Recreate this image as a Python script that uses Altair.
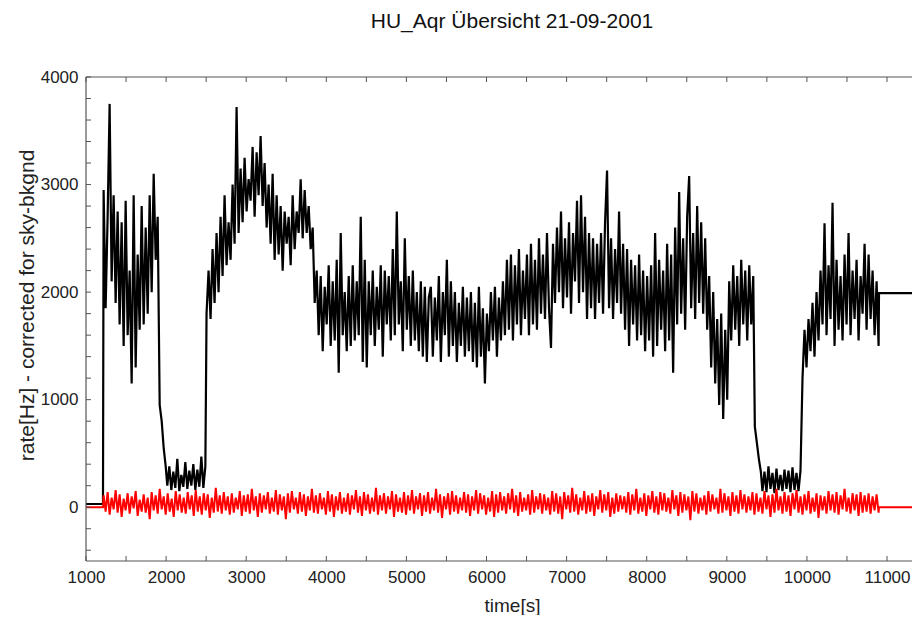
import altair as alt
import pandas as pd

TITLE = "HU_Aqr Übersicht 21-09-2001"
X_TITLE = "time[s]"
Y_TITLE = "rate[Hz] - corrected for sky-bkgnd"

STEP = 25  # seconds between read-off samples

# ---- black curve (source rate), segment by segment ----
black_starts = [1220, 1920, 2015, 2505, 3855, 5305, 6030, 6280, 6755,
                7330, 7730, 8355, 8780, 9055, 9350, 9445, 9945]
seg_a = [2950, 1850, 2700, 3750, 2100, 2900, 1900, 2750, 1700, 2650, 1500, 2850, 1600, 2200,
         1150, 2900, 1300, 2350, 1650, 2800, 1700, 2600, 1800, 2900, 2000, 3100, 2300, 2700]
seg_a_fall = [950, 800, 550, 380]
seg_b = [200, 380, 160, 330, 180, 450, 150, 300, 190, 420, 170, 340, 200, 400, 160, 350,
         190, 470, 180, 380]
seg_c = [1800, 2200, 1750, 2400, 1900, 2550, 2000, 2700, 2150, 2900,
         2250, 2650, 2300, 3000, 2450, 3720, 2550, 3150, 2650, 3250,
         2750, 3050, 2850, 3350, 2700, 3300, 2900, 3450, 2800, 3200,
         2600, 3000, 2450, 3100, 2300, 2900, 2350, 2800, 2200, 2750,
         2450, 2700, 2250, 2900, 2400, 2750, 2550, 3050, 2500, 2950,
         2550, 2800, 2400, 2600]
seg_d = [1900, 2200, 1600, 2150, 1450, 2050, 1700, 2250, 1500, 2100,
         1550, 2300, 1250, 2550, 1600, 2000, 1450, 2150, 1500, 2250,
         1550, 2100, 1600, 2700, 1350, 2300, 1300, 2100, 1600, 2200,
         1500, 2050, 1650, 2250, 1400, 2200, 1700, 2150, 1550, 2400,
         1600, 2750, 1700, 2100, 1450, 2500, 1650, 2150, 1500, 2200,
         1550, 2000, 1450, 2100, 1400, 2050, 1350, 1950]
seg_e = [2050, 1400, 1950, 1550, 2150, 1350, 2000, 1600, 2300, 1400, 2100, 1500, 2000, 1350,
         1900, 1500, 2050, 1400, 1950, 1450, 2000, 1350, 1900, 1300, 2050, 1400, 1850, 1150, 1800]
seg_f = [1450, 2000, 1550, 2050, 1400, 1950, 1550, 2100, 1600, 2300]
seg_g = [1650, 2350, 1550, 2250, 1700, 2400, 1600, 2200, 1750, 2350, 1600, 2450, 1700, 2300,
         1650, 2500, 1800, 2350, 1750]
seg_h = [2550, 1850, 1480, 2450, 1900, 2600, 2000, 2750, 1850, 2500, 1950, 2650, 1800, 2550,
         2100, 2850, 1900, 2900, 2000, 2700, 1750, 2550, 1850]
seg_i = [2500, 1750, 2450, 1900, 2550, 1800, 2650, 3130, 1850, 2500, 1750, 2400, 1900, 2750,
         1800, 2450]
seg_j = [1650, 2400, 1500, 2300, 1700, 2250, 1550, 2350, 1600, 2200, 1450, 2150, 1550, 2250,
         1400, 2550, 1500, 2300, 1650, 2200, 1450, 2450, 1550, 2350, 1250]
seg_k = [2600, 1700, 2930, 1800, 2500, 1650, 2700, 3080, 1850, 2550, 1750, 2800, 1900, 2650,
         1800, 2500, 1650]
seg_l = [2150, 1300, 2000, 1150, 1750, 950, 1800, 820, 1650, 1000, 2100]
seg_m = [1550, 2250, 1650, 2150, 1500, 2300, 1700, 2200, 1550, 2250, 1700, 2150]
seg_m_fall = [750, 600, 450, 330]
seg_n = [150, 330, 140, 380, 170, 320, 130, 360, 160, 300, 150, 350, 170, 340, 140, 370,
         160, 320, 150, 340]
seg_o = [1200, 1650, 1300, 1750, 1450, 1900, 1400, 2000, 1550, 2200,
         1700, 2640, 1600, 2250, 1750, 2830, 1500, 2300, 1650, 2150,
         1550, 2350, 1700, 2550, 1600, 2200, 1750, 2300, 1550, 2150,
         1800, 2450, 1650, 2350, 1750, 2200, 1600, 2100, 1500]
black_segments = [seg_a, seg_a_fall, seg_b, seg_c, seg_d, seg_e, seg_f, seg_g, seg_h,
                  seg_i, seg_j, seg_k, seg_l, seg_m, seg_m_fall, seg_n, seg_o]
black_lead_t = [1000, 1212]
black_lead_v = [30, 30]
black_tail_t = [10900, 11650]
black_tail_v = [1990, 1990]

# ---- red curve (background) ----
red_start = 1220
red_values = [
    110, -40, 140, -70, 90, -20, 160, -50, 120, -90, 80, -30, 130, -60, 100, -10, 150, -80, 70, -40,
    120, -50, 90, -110, 140, -30, 110, -60, 170, -20, 100, -70, 130, -40, 80, -90, 150, -30, 120, -50,
    90, -60, 140, -20, 110, -80, 160, -40, 100, -70, 130, -30, 120, -100, 90, -50, 180, -40, 110, -60,
    140, -30, 100, -70, 130, -50, 90, -20, 150, -80, 110, -40, 120, -60, 170, -30, 100, -90, 130, -50,
    110, -20, 140, -60, 90, -40, 160, -70, 120, -30, 100, -110, 130, -50, 150, -20, 90, -60, 140, -40,
    120, -80, 100, -30, 170, -50, 110, -60, 130, -20, 90, -70, 150, -40, 120, -90, 100, -30, 140, -60,
    90, -40, 130, -70, 110, -20, 160, -50, 100, -80, 140, -30, 120, -60, 90, -40, 180, -70, 110, -30,
    130, -60, 100, -20, 150, -90, 120, -40, 90, -50, 140, -70, 110, -30, 160, -60, 100, -20, 130, -80,
    110, -40, 140, -60, 90, -30, 170, -50, 120, -100, 100, -20, 130, -70, 150, -40, 110, -60, 90, -30,
    140, -50, 120, -80, 100, -30, 160, -60, 130, -20, 110, -70, 90, -40, 150, -90, 120, -50, 140, -30,
    100, -60, 130, -20, 170, -50, 110, -80, 140, -40, 90, -30, 120, -70, 160, -50, 100, -20, 130, -60,
    120, -30, 90, -70, 150, -40, 130, -60, 100, -110, 140, -20, 110, -50, 180, -40, 120, -70, 90, -30,
    150, -60, 110, -40, 130, -80, 100, -20, 160, -50, 120, -30, 140, -90, 90, -60, 130, -40, 110, -20,
    100, -50, 140, -70, 120, -30, 170, -60, 90, -40, 130, -80, 110, -20, 150, -50, 100, -70, 140, -30,
    130, -40, 90, -60, 160, -20, 110, -80, 140, -50, 120, -30, 100, -120, 150, -40, 130, -60, 90, -30,
    110, -70, 150, -40, 120, -20, 90, -60, 170, -50, 130, -30, 100, -80, 140, -40, 110, -60, 160, -20,
    120, -50, 100, -30, 140, -70, 130, -40, 90, -60, 150, -20, 110, -90, 120, -50, 170, -30, 100, -60,
    140, -40, 110, -80, 130, -20, 160, -50, 100, -70, 120, -30, 150, -60, 90, -40, 130, -100, 110, -30,
    100, -60, 150, -30, 120, -50, 140, -70, 110, -20, 170, -40, 90, -60, 130, -30, 120, -80, 140, -50,
    110, -40, 130, -60, 100, -30, 120, -50,
]
red_lead_t = [1000, 1212]
red_lead_v = [0, 0]
red_tail_t = [10900, 11650]
red_tail_v = [0, 0]

# ---- axis ticks ----
x_labels = [1000, 2000, 3000, 4000, 5000, 6000, 7000, 8000, 9000, 10000, 11000]
x_ticks = [1000, 1500, 2000, 2500, 3000, 3500, 4000, 4500, 5000, 5500, 6000, 6500,
           7000, 7500, 8000, 8500, 9000, 9500, 10000, 10500, 11000]
y_labels = [0, 1000, 2000, 3000, 4000]
y_ticks = [-400, -200, 0, 200, 400, 600, 800, 1000, 1200, 1400, 1600, 1800, 2000, 2200,
           2400, 2600, 2800, 3000, 3200, 3400, 3600, 3800, 4000]

# ---- tables ----
rows = []
for t, v in zip(black_lead_t, black_lead_v):
    rows.append({"t": t, "rate": v})
for start, seg in zip(black_starts, black_segments):
    for i, v in enumerate(seg):
        rows.append({"t": start + STEP * i, "rate": v})
for t, v in zip(black_tail_t, black_tail_v):
    rows.append({"t": t, "rate": v})
black_df = pd.DataFrame(rows)

rows = []
for t, v in zip(red_lead_t, red_lead_v):
    rows.append({"t": t, "rate": v})
for i, v in enumerate(red_values):
    rows.append({"t": red_start + STEP * i, "rate": v})
for t, v in zip(red_tail_t, red_tail_v):
    rows.append({"t": t, "rate": v})
red_df = pd.DataFrame(rows)

W, H = 826, 484
FONT = "Liberation Sans"
GRAY = "#555555"
xscale = alt.Scale(domain=[1000, 11312], nice=False, zero=False)
yscale = alt.Scale(domain=[-500, 4000], nice=False, zero=False)

x_axis = alt.Axis(values=x_labels, title=X_TITLE, domain=False, ticks=False, grid=False,
                  format="d", labelPadding=8, labelFontSize=17, titleFontSize=19,
                  labelFlush=False,
                  titleX=426, titleY=44, titleAlign="center", titleBaseline="middle")
y_axis = alt.Axis(values=y_labels, title=Y_TITLE, domain=False, ticks=False, grid=False,
                  format="d", labelPadding=8, labelFontSize=17, titleFontSize=21,
                  labelFlush=False,
                  titleX=-59, titleY=228, titleAlign="center", titleBaseline="middle",
                  titleAngle=270)

black = alt.Chart(black_df).mark_line(color="#000000", strokeWidth=2.2, clip=True).encode(
    x=alt.X("t:Q", scale=xscale, axis=x_axis),
    y=alt.Y("rate:Q", scale=yscale, axis=y_axis),
)
red = alt.Chart(red_df).mark_line(color="#ff0000", strokeWidth=2, clip=True).encode(
    x=alt.X("t:Q", scale=xscale, axis=x_axis),
    y=alt.Y("rate:Q", scale=yscale, axis=y_axis),
)

xt_df = pd.DataFrame({"t": x_ticks})
yt_df = pd.DataFrame({"rate": y_ticks})
xt_bottom = alt.Chart(xt_df).mark_rule(color=GRAY, strokeWidth=1).encode(
    x=alt.X("t:Q", scale=xscale, axis=x_axis), y=alt.value(H), y2=alt.value(H - 5))
xt_top = alt.Chart(xt_df).mark_rule(color=GRAY, strokeWidth=1).encode(
    x=alt.X("t:Q", scale=xscale, axis=x_axis), y=alt.value(0), y2=alt.value(5))
yt_left = alt.Chart(yt_df).mark_rule(color=GRAY, strokeWidth=1).encode(
    y=alt.Y("rate:Q", scale=yscale, axis=y_axis), x=alt.value(0), x2=alt.value(5))

one = alt.Data(values=[{"k": 1}])
frame_left = alt.Chart(one).mark_rule(color=GRAY, strokeWidth=1.2).encode(
    x=alt.value(0), y=alt.value(0), y2=alt.value(H))
frame_bottom = alt.Chart(one).mark_rule(color=GRAY, strokeWidth=1.2).encode(
    x=alt.value(0), x2=alt.value(W), y=alt.value(H))
frame_top = alt.Chart(one).mark_rule(color=GRAY, strokeWidth=1.2).encode(
    x=alt.value(0), x2=alt.value(W), y=alt.value(0))

chart = alt.layer(
    black, red, xt_bottom, xt_top, yt_left, frame_left, frame_bottom, frame_top
).properties(
    width=W, height=H,
    title=alt.TitleParams(TITLE, fontSize=21, font=FONT, fontWeight="normal", anchor="middle",
                          frame="group", dx=13, offset=36, color="#111111"),
    autosize=alt.AutoSizeParams(type="none"),
    padding={"left": 78, "top": 69, "right": 0, "bottom": 54},
).configure_view(stroke=None).configure_axis(
    labelFont=FONT, titleFont=FONT, labelColor="#222222", titleColor="#222222",
    titleFontWeight="normal",
)

chart.save("out.html", embed_options={"renderer": "svg", "actions": False})
